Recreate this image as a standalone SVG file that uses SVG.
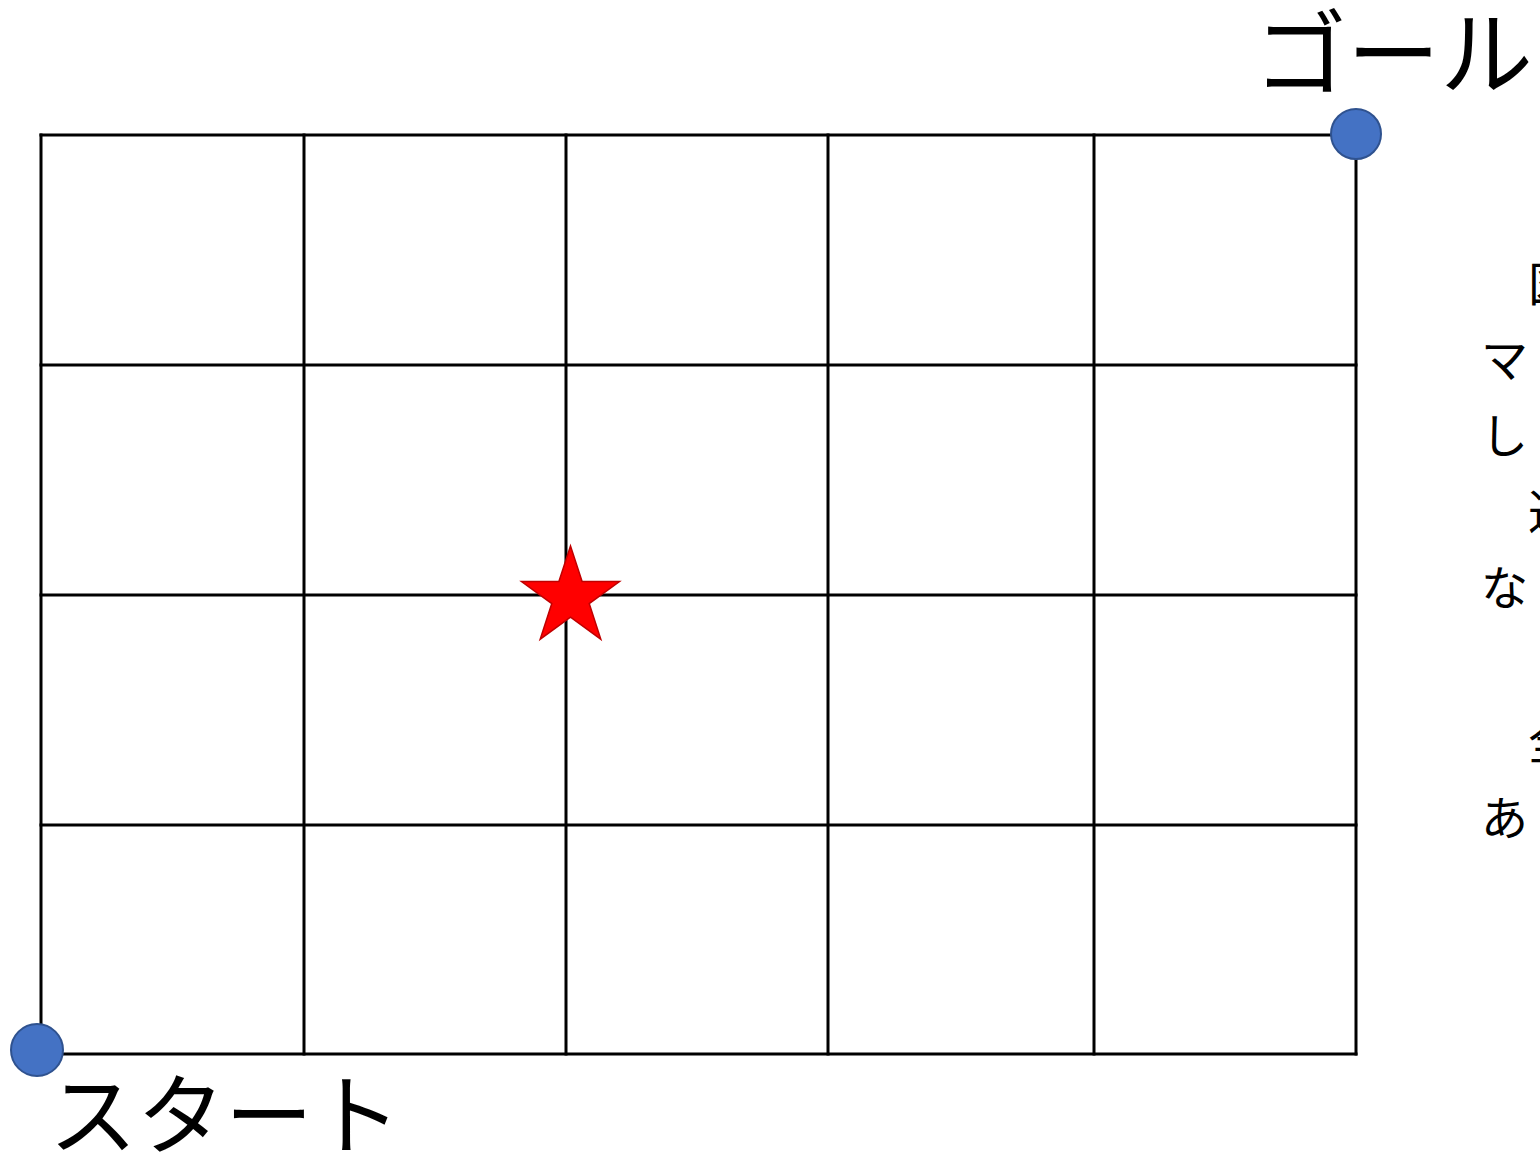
<svg xmlns="http://www.w3.org/2000/svg" width="1540" height="1154" viewBox="0 0 1540 1154">
<style>
.grid line{stroke:#000;stroke-width:3;stroke-linecap:square}
.dot{fill:#4472C4;stroke:#2F528F;stroke-width:2}
.lbl{font-family:"Noto Sans CJK JP","Noto Sans",sans-serif;fill:#000}
</style>
<rect width="1540" height="1154" fill="#fff"/>
<g id="connectors" class="grid">
<line x1="41" y1="135" x2="1356" y2="135"/>
<line x1="41" y1="365" x2="1356" y2="365"/>
<line x1="41" y1="595" x2="1356" y2="595"/>
<line x1="41" y1="825" x2="1356" y2="825"/>
<line x1="41" y1="1054" x2="1356" y2="1054"/>
<line x1="41" y1="135" x2="41" y2="1054"/>
<line x1="304" y1="135" x2="304" y2="1054"/>
<line x1="566" y1="135" x2="566" y2="1054"/>
<line x1="828" y1="135" x2="828" y2="1054"/>
<line x1="1094" y1="135" x2="1094" y2="1054"/>
<line x1="1356" y1="135" x2="1356" y2="1054"/>
</g>
<g id="goal">
<circle class="dot" cx="1356" cy="134" r="25"/>
<text class="lbl" x="1254" y="88" font-size="93">ゴール</text>
</g>
<g id="start">
<circle class="dot" cx="37" cy="1050" r="26"/>
<text class="lbl" x="49" y="1147" font-size="88">スタート</text>
</g>
<g id="star">
<polygon points="570.5,546 582.1,581.6 619.5,581.6 589.2,603.6 600.8,639.2 570.5,617.2 540.2,639.2 551.8,603.6 521.5,581.6 558.9,581.6" fill="#FF0000" stroke="#C00000" stroke-width="1.5"/>
</g>
<g id="side-text" class="lbl" font-size="47">
<text x="1481" y="301">　図</text>
<text x="1481" y="377">マ</text>
<text x="1481" y="453">し</text>
<text x="1481" y="529">　近</text>
<text x="1481" y="605">な</text>
<text x="1481" y="759">　全</text>
<text x="1481" y="835">あ</text>
</g>
</svg>
